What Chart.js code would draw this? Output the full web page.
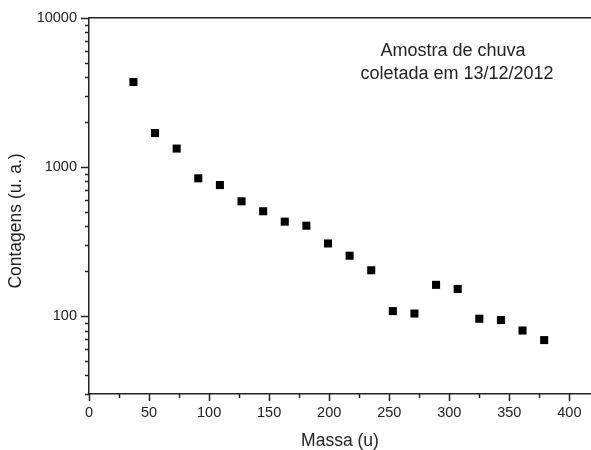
<!DOCTYPE html>
<html>
<head>
<meta charset="utf-8">
<script src="https://cdn.jsdelivr.net/npm/chart.js@4/dist/chart.umd.min.js"></script>
<style>
    body { margin: 0; background: #fff; }
</style>
</head>
<body>
<canvas id="grafico" width="591" height="450"></canvas>
<script>
//DADOS DO GRAFICO
var massa = [37, 55, 73, 91, 109, 127, 145, 163, 181, 199, 217, 235, 253, 271, 289, 307, 325, 343, 361, 379];
var contagens = [3720, 1690, 1330, 840, 757, 589, 505, 430, 404, 307, 254, 203, 108, 104, 162, 152, 96, 94, 80, 69];
//ROTULOS DOS EIXOS
var rotulos_x = [0, 50, 100, 150, 200, 250, 300, 350, 400];
var rotulos_y = [100, 1000, 10000];
var titulo_y = 'Contagens (u. a.)';
var texto_amostra = ['Amostra de chuva', 'coletada em 13/12/2012'];

var fonte = 'Liberation Sans, Arial, sans-serif';
var cor_eixo = '#222';

//MARCAS DE ESCALA MENORES (25 EM 25 NO X, 2..9 POR DECADA NO Y)
var ticks_x = [];
for (var v = 0; v <= 400; v += 25) ticks_x.push(v);
var ticks_y = [];
for (var d = 10; d <= 1000; d *= 10) {
    for (var k = 1; k <= 9; k++) {
        if (d * k >= 30) ticks_y.push(d * k);
    }
}
ticks_y.push(10000);

//PLUGIN QUE DESENHA OS TRACINHOS, O TITULO DO Y E O TEXTO DA AMOSTRA
var tracos = {
    id: 'tracos',
    afterDraw: function (chart) {
        var ctx = chart.ctx;
        var sx = chart.scales.x;
        var sy = chart.scales.y;
        var area = chart.chartArea;
        ctx.save();
        ctx.strokeStyle = cor_eixo;
        ctx.lineWidth = 1.5;
        ctx.beginPath();
        sx.ticks.forEach(function (t) {
            var px = Math.round(sx.getPixelForValue(t.value)) + 0.5;
            var tam = rotulos_x.indexOf(t.value) >= 0 ? 7 : 4;
            ctx.moveTo(px, area.bottom);
            ctx.lineTo(px, area.bottom + tam);
        });
        sy.ticks.forEach(function (t) {
            var py = Math.round(sy.getPixelForValue(t.value)) + 0.5;
            var tam = rotulos_y.indexOf(t.value) >= 0 ? 8 : 4;
            ctx.moveTo(area.left, py);
            ctx.lineTo(area.left - tam, py);
        });
        ctx.stroke();
        ctx.fillStyle = cor_eixo;
        ctx.textAlign = 'center';
        ctx.textBaseline = 'middle';
        //TITULO DO EIXO Y (UM POUCO ABAIXO DO CENTRO, COMO NA FIGURA)
        ctx.save();
        ctx.font = '17.5px ' + fonte;
        ctx.translate(16, 221);
        ctx.rotate(-Math.PI / 2);
        ctx.fillText(titulo_y, 0, 0);
        ctx.restore();
        //TEXTO DENTRO DO GRAFICO
        ctx.font = '18px ' + fonte;
        ctx.fillText(texto_amostra[0], 453, 51);
        ctx.fillText(texto_amostra[1], 457, 74);
        ctx.restore();
    }
};

var ctx = document.getElementById('grafico').getContext('2d');
var grafico = new Chart(ctx, {
    type: 'scatter',
    data: {
        datasets: [
            {
                label: 'Contagens',
                data: massa.map(function (m, i) { return { x: m, y: contagens[i] }; }),
                pointStyle: 'rect',
                pointRadius: 5.7,
                pointBorderWidth: 0,
                backgroundColor: '#000',
                borderColor: '#000'
            }
        ]
    },
    options: {
        responsive: false,
        animation: false,
        layout: { padding: 0, autoPadding: false },
        plugins: {
            legend: { display: false },
            tooltip: { enabled: false }
        },
        scales: {
            x: {
                type: 'linear',
                position: 'bottom',
                min: 0,
                max: 418,
                afterBuildTicks: function (scale) {
                    scale.ticks = ticks_x.map(function (v) { return { value: v }; });
                },
                afterFit: function (scale) {
                    scale.height = 56;
                    scale.paddingLeft = 0;
                    scale.paddingRight = 0;
                },
                ticks: {
                    autoSkip: false,
                    maxRotation: 0,
                    padding: 3,
                    color: cor_eixo,
                    font: { family: fonte, size: 14.5 },
                    callback: function (v) { return rotulos_x.indexOf(v) >= 0 ? String(v) : ''; }
                },
                grid: { drawOnChartArea: false, tickLength: 7, tickColor: 'transparent' },
                border: { color: cor_eixo, width: 1.5 },
                title: {
                    display: true,
                    text: 'Massa (u)',
                    color: cor_eixo,
                    padding: 0,
                    font: { family: fonte, size: 17.5, lineHeight: 1 }
                }
            },
            x2: {
                type: 'linear',
                position: 'top',
                min: 0,
                max: 418,
                afterFit: function (scale) {
                    scale.height = 18;
                    scale.paddingLeft = 0;
                    scale.paddingRight = 0;
                },
                ticks: { display: false },
                grid: { drawOnChartArea: false, drawTicks: false },
                border: { color: cor_eixo, width: 1.5 }
            },
            y: {
                type: 'logarithmic',
                min: 30,
                max: 10000,
                afterBuildTicks: function (scale) {
                    scale.ticks = ticks_y.map(function (v) { return { value: v }; });
                },
                afterFit: function (scale) { scale.width = 89; },
                ticks: {
                    autoSkip: false,
                    padding: 4,
                    color: cor_eixo,
                    font: { family: fonte, size: 14.5 },
                    callback: function (v) { return rotulos_y.indexOf(v) >= 0 ? String(v) : ''; }
                },
                grid: { drawOnChartArea: false, tickLength: 8, tickColor: 'transparent' },
                border: { color: cor_eixo, width: 1.5 }
            }
        }
    },
    plugins: [tracos]
});
</script>
</body>
</html>
